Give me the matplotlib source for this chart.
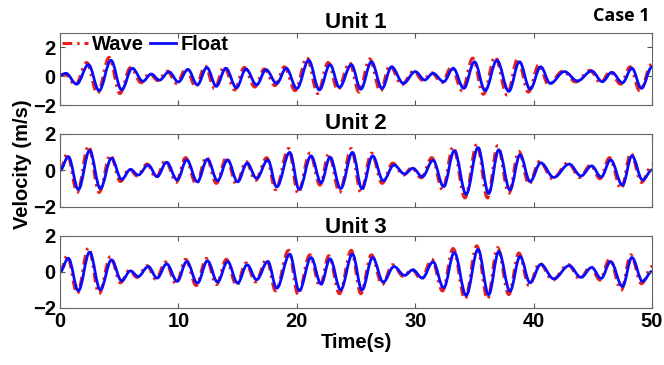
import matplotlib.pyplot as plt
from matplotlib.path import Path
from matplotlib.patches import PathPatch
from matplotlib.lines import Line2D

# peak / trough readings (time in s, velocity in m/s) per unit
u1_float_t = [0, 0.5, 1.4, 2.4, 3.3, 4.3, 5.2, 6.1, 7.0, 7.7, 8.4, 9.2, 10.0, 10.8, 11.6, 12.4, 13.2, 14.0, 14.9, 15.7,
              16.6, 17.4, 18.3, 19.1, 20.0, 21.0, 21.9, 22.8, 23.6, 24.6, 25.4, 26.3, 27.2, 28.0, 29.0, 30.0, 30.8, 31.5, 32.4, 33.2,
              34.1, 35.0, 35.9, 36.9, 37.9, 38.8, 39.7, 40.6, 41.4, 42.6, 43.7, 44.9, 45.8, 46.6, 47.5, 48.3, 49.1, 50.0]
u1_float_v = [0.05, 0.2, -0.55, 0.8, -1.0, 1.1, -0.95, 0.55, -0.35, 0.15, -0.27, 0.3, -0.4, 0.47, -0.6, 0.6, -0.7, 0.55, -0.8, 0.5,
              -0.6, 0.45, -0.5, 0.55, -0.85, 1.1, -0.95, 0.8, -0.77, 0.8, -0.9, 1.0, -0.85, 0.65, -0.5, 0.32, -0.26, 0.2, -0.38, 0.55,
              -0.84, 1.0, -1.0, 1.1, -1.05, 1.0, -0.9, 0.65, -0.5, 0.32, -0.33, 0.36, -0.38, 0.27, -0.45, 0.55, -0.84, 0.65]
u1_wave_t = [0, 0.4, 1.3, 2.25, 3.15, 4.15, 5.05, 5.95, 6.85, 7.55, 8.25, 9.05, 9.85, 10.65, 11.45, 12.25, 13.05, 13.85, 14.75, 15.55,
             16.45, 17.25, 18.15, 18.95, 19.85, 20.85, 21.75, 22.65, 23.45, 24.45, 25.25, 26.15, 27.05, 27.85, 28.85, 29.85, 30.65, 31.35, 32.25, 33.05,
             33.95, 34.85, 35.75, 36.75, 37.75, 38.65, 39.55, 40.45, 41.25, 42.45, 43.55, 44.75, 45.65, 46.45, 47.35, 48.15, 48.95, 50.0]
u1_wave_v = [0.1, 0.15, -0.6, 0.95, -1.2, 1.3, -1.2, 0.6, -0.45, 0.2, -0.3, 0.35, -0.5, 0.55, -0.75, 0.7, -0.85, 0.65, -0.95, 0.6,
             -0.75, 0.5, -0.65, 0.65, -1.0, 1.3, -1.2, 0.95, -0.95, 0.95, -1.1, 1.2, -1.05, 0.75, -0.6, 0.35, -0.3, 0.25, -0.45, 0.65,
             -1.0, 1.25, -1.25, 1.35, -1.3, 1.2, -1.1, 0.8, -0.6, 0.35, -0.4, 0.4, -0.45, 0.3, -0.55, 0.65, -1.0, 0.85]

u2_float_t = [0, 0.7, 1.55, 2.5, 3.4, 4.35, 5.2, 5.95, 6.6, 7.45, 8.2, 9.0, 9.9, 10.7, 11.6, 12.45, 13.3, 14.15, 15.0, 15.8,
              16.6, 17.55, 18.3, 19.4, 20.2, 21.2, 22.05, 22.8, 23.7, 24.7, 25.5, 26.4, 27.3, 28.2, 29.1, 29.8, 30.6, 31.5, 32.4, 33.3,
              34.3, 35.3, 36.2, 37.05, 38.0, 38.85, 39.7, 40.6, 41.7, 43.0, 44.0, 44.9, 45.7, 46.5, 47.5, 48.3, 49.2, 50.0]
u2_float_v = [0.0, 0.76, -1.04, 1.1, -0.99, 0.67, -0.49, 0.06, -0.25, 0.3, -0.34, 0.45, -0.52, 0.58, -0.62, 0.62, -0.56, 0.58, -0.62, 0.4,
              -0.43, 0.58, -0.9, 0.99, -1.04, 0.8, -0.67, 0.73, -0.99, 0.99, -1.0, 0.8, -0.56, 0.3, -0.19, 0.12, -0.34, 0.56, -0.88, 1.08,
              -1.3, 1.25, -1.26, 1.13, -1.06, 0.86, -0.6, 0.42, -0.38, 0.35, -0.3, 0.25, -0.36, 0.58, -0.8, 0.8, -0.52, 0.03]
u2_wave_t = [0, 0.6, 1.45, 2.4, 3.3, 4.25, 5.1, 5.85, 6.5, 7.35, 8.1, 8.9, 9.8, 10.6, 11.5, 12.35, 13.2, 14.05, 14.9, 15.7,
             16.5, 17.45, 18.2, 19.3, 20.1, 21.1, 21.95, 22.7, 23.6, 24.6, 25.4, 26.3, 27.2, 28.1, 29.0, 29.7, 30.5, 31.4, 32.3, 33.2,
             34.2, 35.2, 36.1, 36.95, 37.9, 38.75, 39.6, 40.5, 41.6, 42.9, 43.9, 44.8, 45.6, 46.4, 47.4, 48.2, 49.1, 50.0]
u2_wave_v = [0.0, 0.9, -1.2, 1.35, -1.2, 0.85, -0.6, 0.1, -0.3, 0.35, -0.4, 0.55, -0.65, 0.7, -0.75, 0.75, -0.7, 0.7, -0.75, 0.5,
             -0.55, 0.7, -1.05, 1.2, -1.25, 0.95, -0.8, 0.9, -1.2, 1.2, -1.2, 0.95, -0.7, 0.4, -0.25, 0.15, -0.4, 0.7, -1.05, 1.3,
             -1.5, 1.45, -1.5, 1.35, -1.25, 1.05, -0.75, 0.5, -0.45, 0.42, -0.38, 0.3, -0.45, 0.7, -1.0, 0.95, -0.65, 0.3]

# Unit 3 reads the same as Unit 2 in the picture
u3_float_t, u3_float_v = u2_float_t, u2_float_v
u3_wave_t, u3_wave_v = u2_wave_t, u2_wave_v

titles = ['Unit 1', 'Unit 2', 'Unit 3']
xticks = [0, 10, 20, 30, 40, 50]
yticks = [-2, 0, 2]

RED = '#e8201c'
BLUE = '#0a0aff'
DASHDOT = (0, (3.2, 1.6, 0.8, 1.6))


def smooth_path(t, v):
    # smooth curve through the read peaks/troughs (flat tangent at each extremum)
    verts = [(t[0], v[0])]
    codes = [Path.MOVETO]
    for i in range(1, len(t)):
        dt = t[i] - t[i - 1]
        verts += [(t[i - 1] + 0.364 * dt, v[i - 1]), (t[i] - 0.364 * dt, v[i]), (t[i], v[i])]
        codes += [Path.CURVE4] * 3
    return Path(verts, codes)


plt.rcParams['font.family'] = ['Liberation Sans', 'DejaVu Sans']
plt.rcParams['font.weight'] = 'bold'

fig = plt.figure(figsize=(6.64, 3.65), dpi=100)
boxes = [[0.0904, 0.7123, 0.8916, 0.1973],
         [0.0904, 0.4329, 0.8916, 0.2000],
         [0.0904, 0.1562, 0.8916, 0.1973]]
data = [(u1_wave_t, u1_wave_v, u1_float_t, u1_float_v),
        (u2_wave_t, u2_wave_v, u2_float_t, u2_float_v),
        (u3_wave_t, u3_wave_v, u3_float_t, u3_float_v)]

axes = []
for i, (box, (wt, wv, ft, fv)) in enumerate(zip(boxes, data)):
    ax = fig.add_axes(box)
    ax.add_patch(PathPatch(smooth_path(wt, wv), fill=False, edgecolor=RED,
                           linewidth=2.2, linestyle=DASHDOT))
    ax.add_patch(PathPatch(smooth_path(ft, fv), fill=False, edgecolor=BLUE,
                           linewidth=2.0))
    ax.set_xlim(0, 50)
    ax.set_ylim(-2, 3 if i == 0 else 2)
    ax.set_xticks(xticks)
    ax.set_yticks(yticks)
    ax.tick_params(direction='in', top=True, right=True, length=3.5, width=0.8,
                   color='#555555', labelsize=14.5, pad=3)
    for s in ax.spines.values():
        s.set_color('#666666')
        s.set_linewidth(0.8)
    if i < 2:
        ax.set_xticklabels([])
    ax.set_title(titles[i], fontsize=16, fontweight='bold', pad=2)
    axes.append(ax)

handles = [Line2D([], [], color=RED, linestyle=DASHDOT, linewidth=2.2),
           Line2D([], [], color=BLUE, linewidth=2.0)]
axes[0].legend(handles, ['Wave', 'Float'], loc='upper left', ncol=2, frameon=False,
               fontsize=14.5, handlelength=1.3, handletextpad=0.2, columnspacing=0.3,
               borderaxespad=0.0, borderpad=0.1)
axes[2].set_xlabel('Time(s)', fontsize=14.5, fontweight='bold', labelpad=1)
fig.text(0.034, 0.55, 'Velocity (m/s)', rotation=90, fontsize=14.5,
         fontweight='bold', ha='center', va='center')
fig.text(0.978, 0.955, 'Case 1', fontsize=13, fontweight='bold',
         family='Open Sans', ha='right', va='center')

fig.savefig('out.png', dpi=100)
